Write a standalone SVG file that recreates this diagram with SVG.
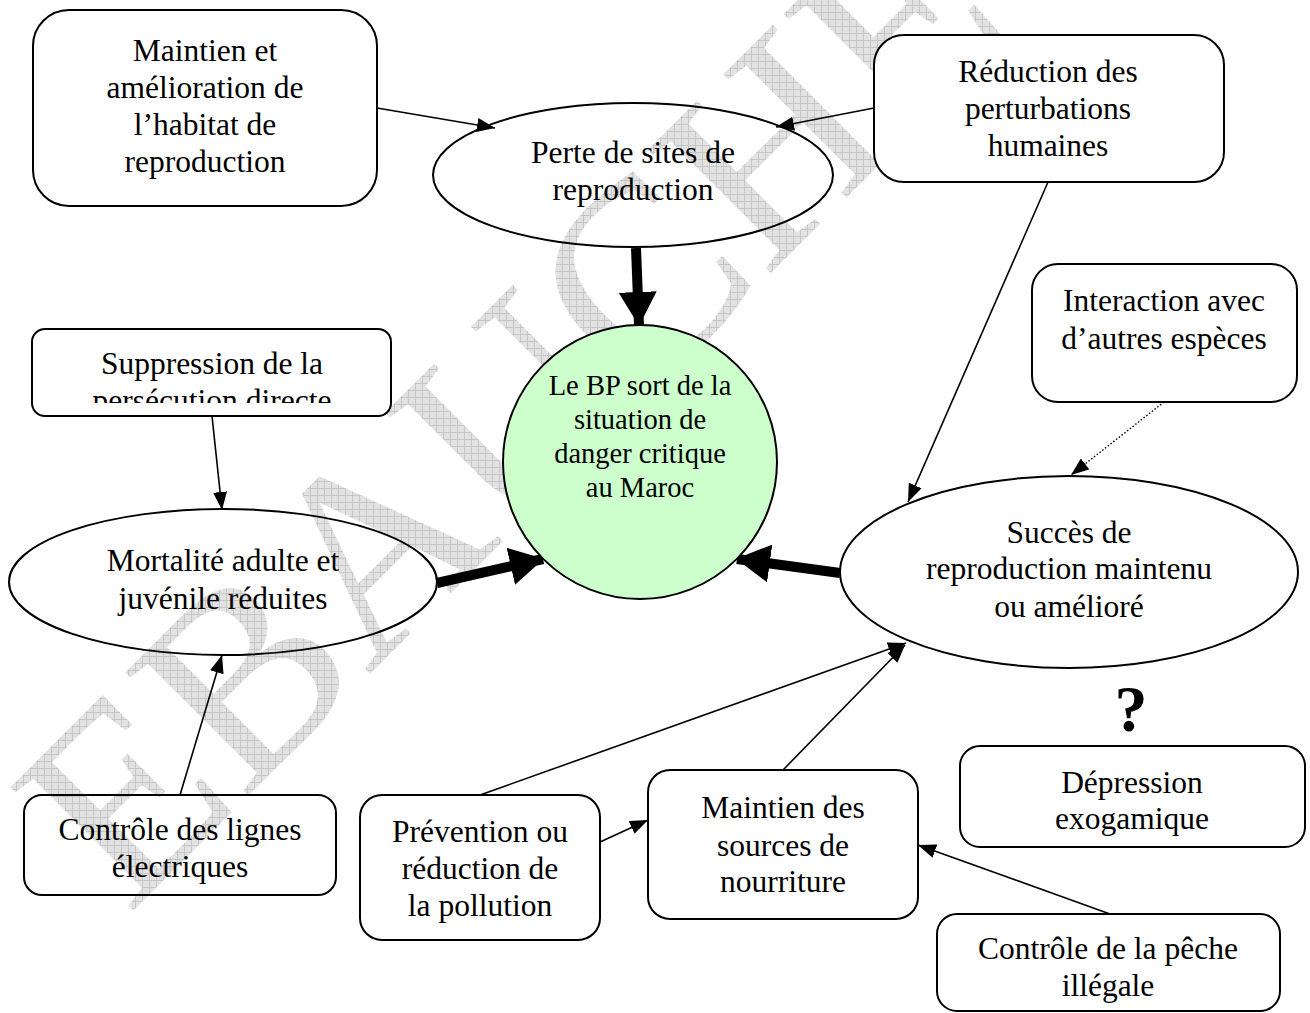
<svg xmlns="http://www.w3.org/2000/svg" width="1310" height="1013" viewBox="0 0 1310 1013">
<style>
.box{fill:#fff;stroke:#000;stroke-width:2}
.clear{fill:none}
.t{font-family:"Liberation Serif","Times New Roman",serif;font-size:31.5px;fill:#000;text-anchor:middle}
.c{font-size:28.5px}
.ln{stroke:#000;stroke-width:1.6;fill:none;marker-end:url(#ah)}
.dot{stroke:#000;stroke-width:1.4;fill:none;stroke-dasharray:1.5 2;marker-end:url(#ah)}
.thick{stroke:#000;stroke-width:10;fill:none;marker-end:url(#ahb)}
</style>
<defs>
<marker id="ah" markerUnits="userSpaceOnUse" markerWidth="18" markerHeight="14" refX="18" refY="7" orient="auto"><path d="M0,0 L18,7 L0,14 z" fill="#000"/></marker>
<marker id="ahb" markerUnits="userSpaceOnUse" markerWidth="34" markerHeight="38" refX="33" refY="19" orient="auto"><path d="M0,0 L34,19 L0,38 z" fill="#000"/></marker>
<pattern id="hatch" width="7" height="7" patternUnits="userSpaceOnUse" patternTransform="rotate(-45)"><rect width="7" height="7" fill="#e2e2e2"/><path d="M0 0.5H7M0.5 0V7" stroke="#c6c6c6" stroke-width="1"/></pattern>
<clipPath id="clipS"><rect x="32" y="329" width="360" height="74"/></clipPath>
</defs>

<g id="watermark">
<text x="0" y="0" transform="translate(128,916) rotate(-45)" font-family="Liberation Serif, serif" font-size="266" fill="url(#hatch)">EBAUCHE</text>
</g>

<g id="connectors">
<line class="ln" x1="377" y1="108" x2="495" y2="128"/>
<line class="ln" x1="874" y1="108" x2="776" y2="127"/>
<line class="thick" x1="636" y1="248" x2="639" y2="325"/>
<line class="ln" x1="212" y1="416" x2="222" y2="510"/>
<line class="thick" x1="437" y1="583" x2="543" y2="559"/>
<line class="thick" x1="840" y1="573" x2="737" y2="559"/>
<line class="ln" x1="1048" y1="182" x2="908" y2="502"/>
<line class="dot" x1="1164" y1="402" x2="1071" y2="475"/>
<line class="ln" x1="180" y1="795" x2="222" y2="655"/>
<line class="ln" x1="480" y1="795" x2="906" y2="643"/>
<line class="ln" x1="783" y1="770" x2="905" y2="645"/>
<line class="ln" x1="600" y1="842" x2="648" y2="820"/>
<line class="ln" x1="1110" y1="914" x2="918" y2="845"/>
</g>

<g id="n-habitat">
<rect class="box" x="33" y="10" width="344" height="196" rx="36"/>
<text class="t"><tspan x="205" y="61">Maintien et</tspan><tspan x="205" y="98">amélioration de</tspan><tspan x="205" y="135">l’habitat de</tspan><tspan x="205" y="172">reproduction</tspan></text>
</g>

<g id="n-perte">
<ellipse class="box clear" cx="633" cy="175" rx="200" ry="72"/>
<text class="t"><tspan x="633" y="163">Perte de sites de</tspan><tspan x="633" y="200">reproduction</tspan></text>
</g>

<g id="n-perturbations">
<rect class="box" x="874" y="35" width="350" height="147" rx="30"/>
<text class="t"><tspan x="1048" y="82">Réduction des</tspan><tspan x="1048" y="119">perturbations</tspan><tspan x="1048" y="156">humaines</tspan></text>
</g>

<g id="n-persecution">
<rect class="box" x="32" y="329" width="359" height="87" rx="13"/>
<g clip-path="url(#clipS)">
<text class="t"><tspan x="212" y="374">Suppression de la</tspan><tspan x="212" y="411">persécution directe</tspan></text>
</g>
</g>

<g id="n-goal">
<circle cx="640" cy="462" r="137" fill="#ccffcc" stroke="#000" stroke-width="2"/>
<text class="t c"><tspan x="640" y="395">Le BP sort de la</tspan><tspan x="640" y="429">situation de</tspan><tspan x="640" y="463">danger critique</tspan><tspan x="640" y="497">au Maroc</tspan></text>
</g>

<g id="n-mortalite">
<ellipse class="box clear" cx="223" cy="582" rx="214" ry="73"/>
<text class="t"><tspan x="223" y="571">Mortalité adulte et</tspan><tspan x="223" y="609">juvénile réduites</tspan></text>
</g>

<g id="n-interaction">
<rect class="box" x="1032" y="264" width="265" height="138" rx="26"/>
<text class="t"><tspan x="1164" y="311">Interaction avec</tspan><tspan x="1164" y="349">d’autres espèces</tspan></text>
</g>

<g id="n-succes">
<ellipse class="box" cx="1069" cy="572" rx="229" ry="96"/>
<text class="t"><tspan x="1069" y="543">Succès de</tspan><tspan x="1069" y="579">reproduction maintenu</tspan><tspan x="1069" y="617">ou amélioré</tspan></text>
</g>

<g id="q-mark">
<text class="t" x="1131" y="731" font-weight="bold" style="font-size:66px">?</text>
</g>

<g id="n-depression">
<rect class="box" x="960" y="746" width="345" height="101" rx="20"/>
<text class="t"><tspan x="1132" y="793">Dépression</tspan><tspan x="1132" y="829">exogamique</tspan></text>
</g>

<g id="n-lignes">
<rect class="box clear" x="24" y="795" width="312" height="100" rx="18"/>
<text class="t"><tspan x="180" y="840">Contrôle des lignes</tspan><tspan x="180" y="877">électriques</tspan></text>
</g>

<g id="n-pollution">
<rect class="box" x="360" y="795" width="240" height="145" rx="22"/>
<text class="t"><tspan x="480" y="842">Prévention ou</tspan><tspan x="480" y="879">réduction de</tspan><tspan x="480" y="916">la pollution</tspan></text>
</g>

<g id="n-nourriture">
<rect class="box" x="648" y="770" width="270" height="149" rx="22"/>
<text class="t"><tspan x="783" y="818">Maintien des</tspan><tspan x="783" y="856">sources de</tspan><tspan x="783" y="892">nourriture</tspan></text>
</g>

<g id="n-peche">
<rect class="box" x="937" y="914" width="343" height="97" rx="20"/>
<text class="t"><tspan x="1108" y="959">Contrôle de la pêche</tspan><tspan x="1108" y="996">illégale</tspan></text>
</g>
</svg>
